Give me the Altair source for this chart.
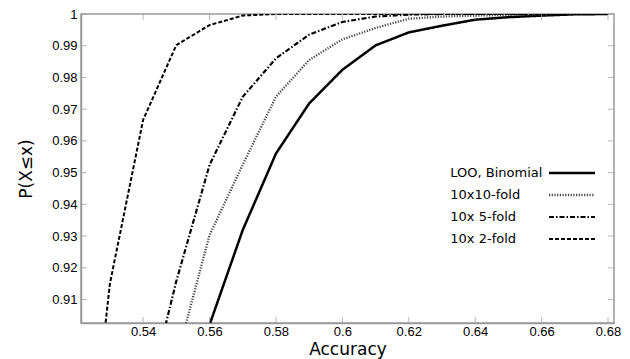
import altair as alt
import pandas as pd

# ---- data ----
series_names = ["LOO, Binomial", "10x10-fold", "10x 5-fold", "10x 2-fold"]

x_loo = [0.55, 0.56, 0.57, 0.58, 0.59, 0.60, 0.61, 0.62, 0.63, 0.64, 0.65, 0.66, 0.67, 0.68]
p_loo = [0.870, 0.902, 0.9319, 0.956, 0.9718, 0.9824, 0.9901, 0.9942, 0.9963, 0.9982, 0.9990, 0.9995, 0.9999, 1.0]

x_10x10 = [0.55, 0.56, 0.57, 0.58, 0.59, 0.60, 0.61, 0.62, 0.63, 0.64, 0.65, 0.66, 0.67, 0.68]
p_10x10 = [0.891, 0.9303, 0.9525, 0.9739, 0.9855, 0.9920, 0.9956, 0.9985, 0.9992, 0.9995, 0.9997, 0.9999, 1.0, 1.0]

x_10x5 = [0.54, 0.55, 0.56, 0.57, 0.58, 0.59, 0.60, 0.61, 0.62, 0.63, 0.64, 0.65, 0.66, 0.67, 0.68]
p_10x5 = [0.873, 0.9158, 0.9524, 0.9739, 0.986, 0.9935, 0.9975, 0.9992, 0.9998, 1.0, 1.0, 1.0, 1.0, 1.0, 1.0]

x_10x2 = [0.52, 0.53, 0.54, 0.55, 0.56, 0.57, 0.58, 0.59, 0.60, 0.61, 0.62, 0.63, 0.64, 0.65, 0.66, 0.67, 0.68]
p_10x2 = [0.82, 0.915, 0.9666, 0.9902, 0.9965, 0.9995, 1.0, 1.0, 1.0, 1.0, 1.0, 1.0, 1.0, 1.0, 1.0, 1.0, 1.0]

x_ticks = [0.54, 0.56, 0.58, 0.60, 0.62, 0.64, 0.66, 0.68]
y_ticks = [0.91, 0.92, 0.93, 0.94, 0.95, 0.96, 0.97, 0.98, 0.99, 1.0]

# ---- styles ----
colors = ["#000000", "#444444", "#000000", "#000000"]
dashes = [[1, 0], [1.2, 1.5], [5, 2, 1.5, 2], [4, 2]]
widths = [2.5, 2.0, 3.0, 2.5]

x_domain = [0.5213, 0.6818]
y_domain = [0.9026, 1.0]
W, H = 533, 309
axis_grey = "#9a9a9a"

rows = []
for name, xs, ps in [
    (series_names[0], x_loo, p_loo),
    (series_names[1], x_10x10, p_10x10),
    (series_names[2], x_10x5, p_10x5),
    (series_names[3], x_10x2, p_10x2),
]:
    for xv, pv in zip(xs, ps):
        rows.append({"series": name, "acc": xv, "p": pv})
df = pd.DataFrame(rows)

legend = alt.Legend(
    title=None,
    orient="none",
    legendX=484,
    legendY=152,
    direction="vertical",
    symbolType="M-4,0H4",
    symbolSize=132.25,
    symbolFillColor="transparent",
    labelOffset={"expr": "-128.7"},
    labelAlign="left",
    labelFont="DejaVu Sans",
    labelFontSize=13,
    labelColor="black",
    rowPadding=8,
    padding=0,
)

xscale = alt.Scale(domain=x_domain, nice=False, zero=False)
yscale = alt.Scale(domain=y_domain, nice=False, zero=False)

x_axis = alt.Axis(values=x_ticks, format="~g", labelFlush=False, tickSize=0,
                  labelPadding=2, titlePadding=3)
y_axis = alt.Axis(values=y_ticks, format="~g", labelFlush=False, tickSize=0,
                  labelPadding=4, titlePadding=16)

lines = alt.Chart(df).mark_line(clip=True).encode(
    x=alt.X("acc:Q", scale=xscale, title="Accuracy", axis=x_axis),
    y=alt.Y("p:Q", scale=yscale, title="P(X≤x)", axis=y_axis),
    color=alt.Color("series:N", scale=alt.Scale(domain=series_names, range=colors), legend=legend),
    strokeDash=alt.StrokeDash("series:N", scale=alt.Scale(domain=series_names, range=dashes), legend=legend),
    strokeWidth=alt.StrokeWidth("series:N", scale=alt.Scale(domain=series_names, range=widths), legend=legend),
    order=alt.Order("acc:Q"),
)

ytick_df = pd.DataFrame({"p": y_ticks})
xtick_df = pd.DataFrame({"acc": x_ticks})

yt_left = alt.Chart(ytick_df).mark_tick(orient="horizontal", size=6, thickness=1, color=axis_grey).encode(
    y=alt.Y("p:Q", scale=yscale, title="P(X≤x)", axis=y_axis), x=alt.value(3))
yt_right = alt.Chart(ytick_df).mark_tick(orient="horizontal", size=6, thickness=1, color=axis_grey).encode(
    y=alt.Y("p:Q", scale=yscale, title="P(X≤x)", axis=y_axis), x=alt.value(W - 3))
xt_bottom = alt.Chart(xtick_df).mark_tick(orient="vertical", size=6, thickness=1, color=axis_grey).encode(
    x=alt.X("acc:Q", scale=xscale, title="Accuracy", axis=x_axis), y=alt.value(H - 3))
xt_top = alt.Chart(xtick_df).mark_tick(orient="vertical", size=6, thickness=1, color=axis_grey).encode(
    x=alt.X("acc:Q", scale=xscale, title="Accuracy", axis=x_axis), y=alt.value(3))

chart = alt.layer(lines, yt_left, yt_right, xt_bottom, xt_top).properties(
    width=W,
    height=H,
    autosize=alt.AutoSizeParams(type="none"),
    padding={"left": 73, "top": 6, "right": 8, "bottom": 36},
).configure_view(
    stroke=axis_grey, strokeWidth=1.5
).configure_axis(
    domainColor=axis_grey,
    domainWidth=1.5,
    grid=False,
    labelFont="Liberation Sans",
    labelFontSize=13,
    labelColor="black",
    titleFont="DejaVu Sans",
    titleFontSize=17,
    titleFontWeight="normal",
    titleColor="black",
)

chart.save("out.html", embed_options={"renderer": "svg", "actions": False})
